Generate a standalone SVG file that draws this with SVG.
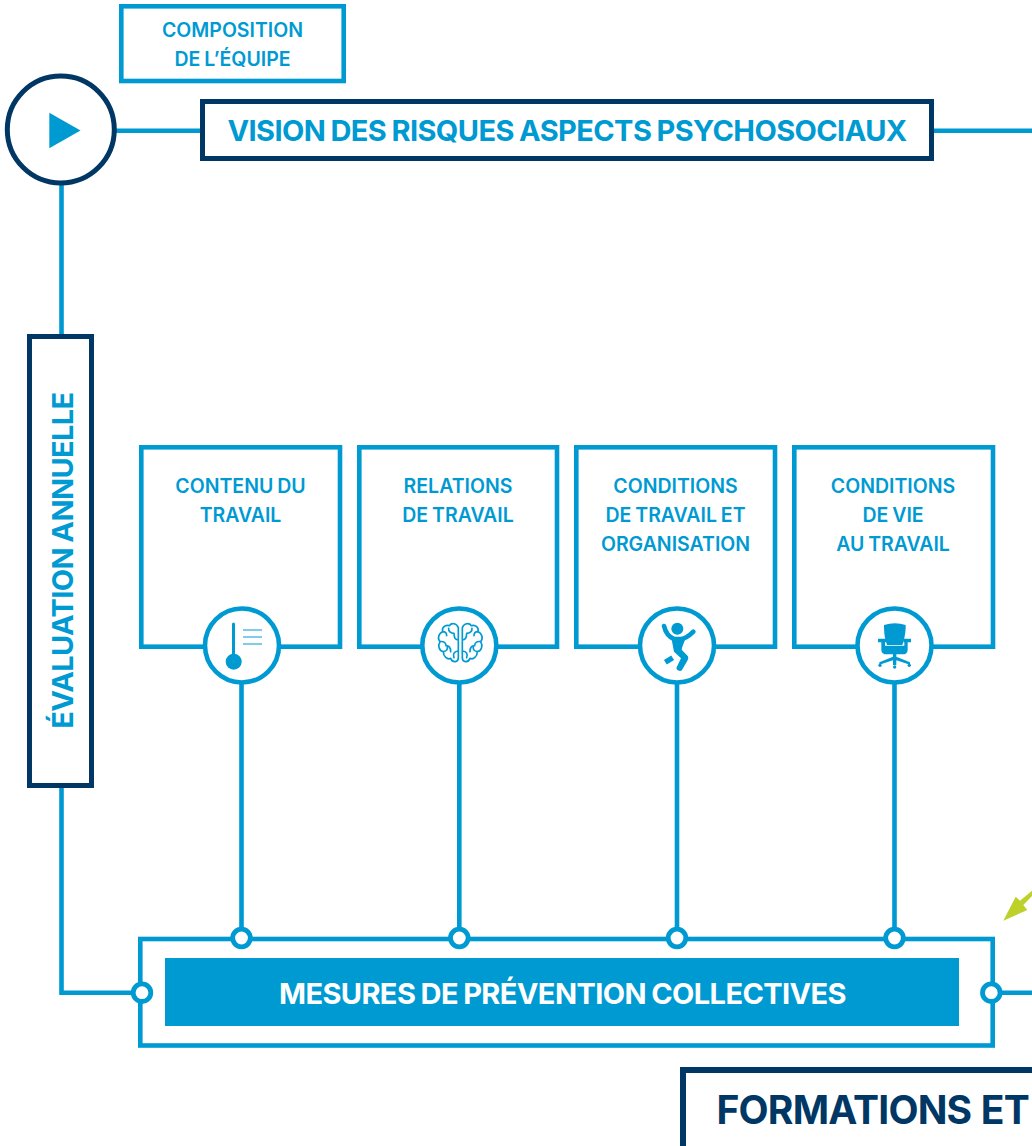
<svg xmlns="http://www.w3.org/2000/svg" width="1032" height="1146" viewBox="0 0 1032 1146">
<style>
.ln{fill:none;stroke:#009ad3;stroke-width:4.6}
.nv{fill:#fff;stroke:#003764;stroke-width:5}
.box{fill:#fff;stroke:#009ad3;stroke-width:4.6}
.ic{fill:#fff;stroke:#009ad3;stroke-width:4.6}
.dot{fill:#fff;stroke:#009ad3;stroke-width:4.8}
.s{font-family:Inter,"Liberation Sans",sans-serif;font-weight:600;font-size:19.5px;fill:#009ad3;text-anchor:middle;word-spacing:-1px}
.b{font-family:Inter,"Liberation Sans",sans-serif;font-weight:700;font-size:29px;text-anchor:middle;letter-spacing:-.6px;word-spacing:-1px}
.g{fill:none;stroke:#009ad3;stroke-width:5;stroke-linecap:round;stroke-linejoin:round}
.f{fill:#009ad3}
</style>
<rect width="1032" height="1146" fill="#fff"/>
<g id="connectors">
<path class="ln" d="M112 130.800H204M930 130.800H1032"/>
<path class="ln" d="M61.500 180V992.700H142"/>
<path class="ln" d="M241.500 680V938M459.300 680V938M677 680V938M894.500 680V938"/>
<path class="ln" d="M991 992.700H1032"/>
</g>
<g id="composition"><rect class="box" x="121.300" y="6.300" width="222.400" height="74.700"/><text class="s" x="232.500" y="37">COMPOSITION</text><text class="s" x="232.500" y="66">DE L’ÉQUIPE</text></g>
<g id="start"><circle class="nv" cx="60.800" cy="129.500" r="53.500"/><polygon points="49.300,112.700 80.500,130.500 49.300,148.300" class="f"/></g>
<g id="vision"><rect class="nv" x="202.500" y="101.500" width="729" height="57"/><text class="b" x="567" y="141" fill="#009ad3">VISION DES RISQUES ASPECTS PSYCHOSOCIAUX</text></g>
<g id="evaluation"><rect class="nv" x="29.500" y="336.500" width="62" height="449"/><text class="b" transform="translate(73,560.500) rotate(-90)" fill="#009ad3">ÉVALUATION ANNUELLE</text></g>
<g id="contenu"><rect class="box" x="141.300" y="447.300" width="198.700" height="199.400"/><text class="s" x="240.500" y="492.500">CONTENU DU</text><text class="s" x="240.500" y="521.500">TRAVAIL</text>
<circle class="ic" cx="242" cy="645.500" r="37"/><path d="M233.500 624V660" stroke="#009ad3" stroke-width="3" stroke-linecap="round"/><circle cx="233.700" cy="661.700" r="8" class="f"/><path d="M243 630H262M243 637H262M243 644H262" stroke="#009ad3" stroke-width="1"/></g>
<g id="relations"><rect class="box" x="359.300" y="447.300" width="197.700" height="199.400"/><text class="s" x="458" y="492.500">RELATIONS</text><text class="s" x="458" y="521.500">DE TRAVAIL</text>
<circle class="ic" cx="459.300" cy="645.500" r="37"/>
<g transform="translate(430,615) scale(.3333)">
<path id="lobe" class="g" d="M85 38C80 25 65 22 58 32C45 28 35 38 38 50C25 55 22 72 30 80C22 92 28 108 40 110C40 125 52 135 62 130C68 145 85 142 85 128V38M85 75C75 75 72 65 72 55C62 55 55 48 56 40M38 50C46 50 50 56 50 62M30 80C42 78 48 84 48 92C58 92 62 100 62 110M40 110C50 108 53 102 52 96M85 108C72 108 68 118 72 128"/>
<use href="#lobe" transform="translate(182,0) scale(-1,1)"/></g></g>
<g id="conditions-travail"><rect class="box" x="576.300" y="447.300" width="198.700" height="199.400"/><text class="s" x="675.500" y="492.500">CONDITIONS</text><text class="s" x="675.500" y="521.500">DE TRAVAIL ET</text><text class="s" x="675.500" y="550.500">ORGANISATION</text>
<circle class="ic" cx="677" cy="645.500" r="37"/>
<g transform="translate(650,615) scale(.3333)">
<circle cx="82" cy="41" r="18" class="f"/>
<path d="M42 33C46 50 55 65 72 72L92 72C105 72 118 62 130 50" fill="none" stroke="#009ad3" stroke-width="14" stroke-linecap="round"/>
<path d="M64 68L106 72L97 95L95 104L114 124C116 130 114 134 112 137L96 165C91 172 76 165 80 157L93 130L72 110Z" class="f"/>
<path d="M46 142L68 128" stroke="#009ad3" stroke-width="16"/></g></g>
<g id="conditions-vie"><rect class="box" x="794.300" y="447.300" width="198.700" height="199.400"/><text class="s" x="893" y="492.500">CONDITIONS</text><text class="s" x="893" y="521.500">DE VIE</text><text class="s" x="893" y="550.500">AU TRAVAIL</text>
<circle class="ic" cx="894.500" cy="645.500" r="37"/>
<g transform="translate(865,615) scale(.3333)" class="f">
<path d="M57 30Q90 20 122 30L122 40Q120 70 112 90L66 90Q58 70 57 40Z"/>
<path d="M39 71H63V82H60V92H118V82H115V71H138V82H128V104Q128 118 112 118H66Q49 118 49 104V82H39Z"/>
<path d="M84 116H94V125L135 142V149L94 136V150H84V136L43 149V142L84 125Z"/>
<circle cx="45" cy="151" r="5"/><circle cx="89" cy="156" r="5"/><circle cx="133" cy="151" r="5"/></g></g>
<g id="mesures"><rect class="box" x="140.300" y="939" width="852.400" height="106.500"/><rect x="165" y="958" width="794" height="68" class="f"/><text class="b" x="562.500" y="1003.500" fill="#fff">MESURES DE PRÉVENTION COLLECTIVES</text>
<circle class="dot" cx="241.500" cy="938" r="8.800"/><circle class="dot" cx="459.300" cy="938" r="8.800"/><circle class="dot" cx="677" cy="938" r="8.800"/><circle class="dot" cx="894.500" cy="938" r="8.800"/><circle class="dot" cx="142" cy="992.700" r="8.800"/><circle class="dot" cx="991.300" cy="992.700" r="8.800"/></g>
<g id="arrow"><polygon points="1003.300,920.700 1015.700,896.700 1020,900.700 1032,890.700 1032,896 1023.300,905 1027.300,910" fill="#bdd12a"/></g>
<g id="formations"><path d="M683 1146V1070H1032" fill="#fff" stroke="#003764" stroke-width="6"/><text x="716.500" y="1124.300" font-family="Inter,'Liberation Sans',sans-serif" font-weight="700" font-size="39px" letter-spacing="-.8" word-spacing="1" fill="#003764">FORMATIONS ET</text></g>
</svg>
